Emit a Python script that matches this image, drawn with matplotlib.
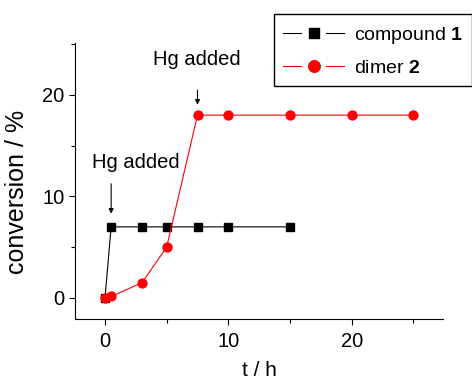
import matplotlib
matplotlib.use("Agg")
import matplotlib.pyplot as plt
from matplotlib.legend_handler import HandlerBase
from matplotlib.lines import Line2D

plt.rcParams["font.family"] = ["Liberation Sans", "DejaVu Sans"]
plt.rcParams["mathtext.fontset"] = "custom"
plt.rcParams["mathtext.rm"] = "Liberation Sans"
plt.rcParams["mathtext.bf"] = "Liberation Sans:bold"

# compound 1
t1 = [0, 0.5, 3, 5, 7.5, 10, 15]
conv1 = [0, 7, 7, 7, 7, 7, 7]

# dimer 2
t2 = [0, 0.5, 3, 5, 7.5, 10, 15, 20, 25]
conv2 = [0, 0.15, 1.5, 5, 18, 18, 18, 18, 18]

labels = [r"compound $\mathbf{1}$", r"dimer $\mathbf{2}$"]
xticks = [0, 10, 20]
yticks = [0, 10, 20]


class GapLineHandler(HandlerBase):
    # Origin-style legend symbol: line - marker - line with gaps
    def create_artists(self, legend, orig_handle, xdescent, ydescent,
                       width, height, fontsize, trans):
        y = height / 2 - ydescent
        x0 = -xdescent
        seg = width * 0.3
        color = orig_handle.get_color()
        lw = orig_handle.get_linewidth()
        left = Line2D([x0, x0 + seg], [y, y], color=color, lw=lw)
        right = Line2D([x0 + width - seg, x0 + width], [y, y], color=color, lw=lw)
        mark = Line2D([x0 + width / 2], [y], marker=orig_handle.get_marker(),
                      markersize=orig_handle.get_markersize() * 1.3,
                      markerfacecolor=orig_handle.get_markerfacecolor(),
                      markeredgecolor=orig_handle.get_markeredgecolor(),
                      linestyle="none")
        for a in (left, right, mark):
            a.set_transform(trans)
        return [left, right, mark]


fig = plt.figure(figsize=(4.72, 3.81), dpi=100)
ax = fig.add_axes([75 / 472, 62 / 381, 368 / 472, 276 / 381])

l1, = ax.plot(t1, conv1, color="black", lw=0.8, marker="s", markersize=5.6,
              markerfacecolor="black", markeredgecolor="black",
              label=labels[0], zorder=3)
l2, = ax.plot(t2, conv2, color="#FF0000", lw=0.8, marker="o", markersize=6.4,
              markerfacecolor="#FF0000", markeredgecolor="#FF0000",
              label=labels[1], zorder=4)

# "Hg added" annotations
ax.annotate("", xy=(t1[1], conv1[1]), xytext=(0, 31), textcoords="offset points",
            arrowprops=dict(arrowstyle="-|>", color="black", lw=0.8,
                            mutation_scale=7, shrinkA=0, shrinkB=9.5))
ax.annotate("Hg added", xy=(t1[1], conv1[1]), xytext=(18, 46),
            textcoords="offset points", ha="center", va="center", fontsize=14.5)
ax.annotate("", xy=(t2[4], conv2[4]), xytext=(0, 18), textcoords="offset points",
            arrowprops=dict(arrowstyle="-|>", color="black", lw=0.8,
                            mutation_scale=7, shrinkA=0, shrinkB=7.5))
ax.annotate("Hg added", xy=(t2[4], conv2[4]), xytext=(-0.5, 40),
            textcoords="offset points", ha="center", va="center", fontsize=14.5)

ax.set_xlim(-2.43, 27.4)
ax.set_ylim(-2.07, 25.1)
ax.set_xticks(xticks)
ax.set_yticks(yticks)
ax.set_xticks([5, 15, 25], minor=True)
ax.set_yticks([5, 15, 25], minor=True)
ax.tick_params(which="major", direction="out", length=4, width=0.8, labelsize=14.5)
ax.tick_params(axis="x", which="major", pad=5.5)
ax.tick_params(which="minor", direction="out", length=3, width=0.8)
ax.spines["top"].set_visible(False)
ax.spines["right"].set_visible(False)
ax.spines["left"].set_linewidth(0.8)
ax.spines["bottom"].set_linewidth(0.8)

ax.set_xlabel("t / h", fontsize=15, labelpad=7)
ax.set_ylabel("conversion / %", fontsize=18)
ax.yaxis.set_label_coords(-0.125, 0.46)

leg = fig.legend(handles=[l1, l2], labels=labels,
                 handler_map={Line2D: GapLineHandler()},
                 loc="upper right", bbox_to_anchor=(471.5 / 472, 1 - 14 / 381),
                 borderaxespad=0, fontsize=14, handlelength=3.15,
                 handleheight=1.26, handletextpad=0.5, borderpad=0.45,
                 labelspacing=0.54, fancybox=False, framealpha=1,
                 edgecolor="black")
leg.get_frame().set_linewidth(1.0)

fig.savefig("out.png", dpi=100)
